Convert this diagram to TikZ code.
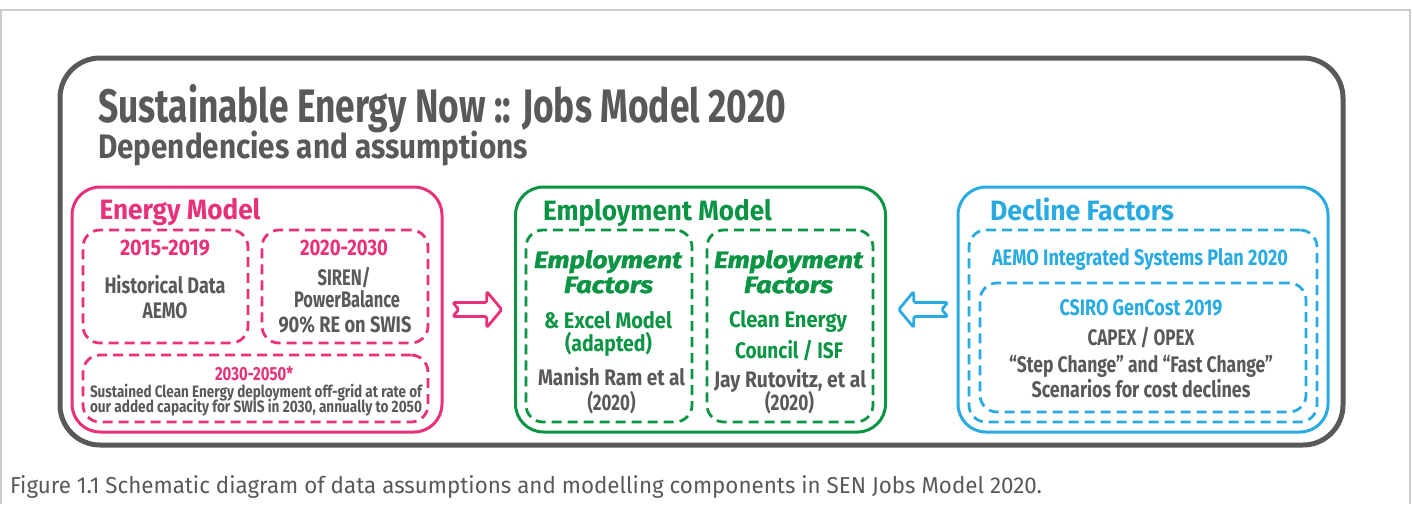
\documentclass[tikz,border=0pt]{standalone}
\usepackage{fontspec}
\usepackage{graphicx}
\usetikzlibrary{calc}
\newfontfamily\dinc{Fira Sans}
\newfontfamily\empf{Fira Sans}[FakeBold=1.5]
\newsavebox\fitbox
\newcommand\fitw[2]{\sbox\fitbox{#2}\pgfmathsetmacro\fitr{#1/\the\wd\fitbox}\scalebox{\fitr}[1]{\usebox\fitbox}}
\definecolor{dgray}{HTML}{58595B}
\definecolor{pinkc}{HTML}{E8317A}
\definecolor{greenc}{HTML}{0B9444}
\definecolor{bluec}{HTML}{29ABE2}
\definecolor{lgray}{HTML}{CCCCCC}
\tikzset{
  t/.style={anchor=base, inner sep=0pt, outer sep=0pt},
  bigbox/.style={draw, line width=3pt, rounded corners=28pt, minimum width=370pt, minimum height=245pt, inner sep=0pt},
  dbox/.style={draw, line width=2.8pt, dash pattern=on 10pt off 6pt, rounded corners=17pt, inner sep=0pt},
  ttl/.style={t, anchor=base west, font=\dinc\bfseries\fontsize{28}{28}\selectfont},
  mid/.style={t, font=\dinc\bfseries\fontsize{22.5}{22.5}\selectfont},
  emp/.style={t, font=\empf\bfseries\itshape\fontsize{23.5}{23.5}\selectfont, text=greenc},
  small/.style={t, font=\dinc\bfseries\fontsize{16.5}{16.5}\selectfont, text=dgray},
  barrow/.style={line width=2.8pt, rounded corners=1.5pt, line join=round}
}
\begin{document}
\begin{tikzpicture}[x=1pt,y=-1pt]
\useasboundingbox (0,0) rectangle (1412,504);
% page frame
\draw[lgray, line width=1.5pt] (0.75,504) -- (0.75,10) -- (1410,10) -- (1410,504);
% outer gray box
\node[draw=dgray, line width=5pt, rounded corners=40pt, minimum width=1283pt, minimum height=387pt, inner sep=0pt] (outer) at (701.5,251.5) {};
\node[t, anchor=base west, font=\dinc\bfseries\fontsize{47}{47}\selectfont, text=dgray] (title) at (98,122) {\fitw{688}{Sustainable Energy Now :: Jobs Model 2020}};
\node[t, anchor=base west, font=\dinc\bfseries\fontsize{34}{34}\selectfont, text=dgray] (subtitle) at (98,158) {\fitw{430}{Dependencies and assumptions}};

% ---------- Energy Model ----------
\node[bigbox, draw=pinkc] (energy) at (257,309.5) {};
\node[ttl, text=pinkc] (energyT) at (99.5,219) {\fitw{161}{Energy Model}};
\node[dbox, draw=pinkc, minimum width=165pt, minimum height=113pt] (eA) at (165.5,286.5) {};
\node[dbox, draw=pinkc, minimum width=166pt, minimum height=113pt] (eB) at (345,286.5) {};
\node[dbox, draw=pinkc, minimum width=345pt, minimum height=67pt] (eC) at (255.5,388.5) {};
\node[mid, text=pinkc] (eA1) at (165,255) {\fitw{90}{2015-2019}};
\node[mid, text=dgray] (eA2) at (165,293) {\fitw{121}{Historical Data}};
\node[mid, text=dgray] (eA3) at (165,318) {\fitw{45}{AEMO}};
\node[mid, text=pinkc] (eB1) at (344,255) {\fitw{88}{2020-2030}};
\node[mid, text=dgray] (eB2) at (344,285) {\fitw{53}{SIREN/}};
\node[mid, text=dgray] (eB3) at (347,307) {\fitw{106}{PowerBalance}};
\node[mid, text=dgray] (eB4) at (345,332) {\fitw{133}{90\% RE on SWIS}};
\node[t, font=\dinc\bfseries\fontsize{19}{19}\selectfont, text=pinkc] (eC1) at (254,380) {\fitw{78}{2030-2050*}};
\node[small] (eC2) at (256,397) {\fitw{332}{Sustained Clean Energy deployment off-grid at rate of}};
\node[small] (eC3) at (256,412) {\fitw{332}{our added capacity for SWIS in 2030, annually to 2050}};

% ---------- Employment Model ----------
\node[bigbox, draw=greenc] (employ) at (700.5,309.5) {};
\node[ttl, text=greenc] (employT) at (543,220) {\fitw{229}{Employment Model}};
\node[dbox, draw=greenc, minimum width=166pt, minimum height=192pt] (mA) at (609,326) {};
\node[dbox, draw=greenc, minimum width=166pt, minimum height=192pt] (mB) at (790,326) {};
\node[emp] (mA1) at (608,268) {\fitw{148}{Employment}};
\node[emp] (mA2) at (608.5,293) {\fitw{89}{Factors}};
\node[mid, text=greenc] (mA3) at (608,328) {\fitw{128}{\& Excel Model}};
\node[mid, text=greenc] (mA4) at (608.5,351) {\fitw{87}{(adapted)}};
\node[mid, text=dgray] (mA5) at (611.5,385) {\fitw{147}{Manish Ram et al}};
\node[mid, text=dgray] (mA6) at (611.5,410) {\fitw{48}{(2020)}};
\node[emp] (mB1) at (788.5,268) {\fitw{149}{Employment}};
\node[emp] (mB2) at (788.5,293) {\fitw{89}{Factors}};
\node[mid, text=greenc] (mB3) at (788,327) {\fitw{118}{Clean Energy}};
\node[mid, text=greenc] (mB4) at (789,358) {\fitw{108}{Council / ISF}};
\node[mid, text=dgray] (mB5) at (790,387) {\fitw{152}{Jay Rutovitz, et al}};
\node[mid, text=dgray] (mB6) at (789.5,410) {\fitw{49}{(2020)}};

% ---------- Decline Factors ----------
\node[bigbox, draw=bluec] (decline) at (1143,309.5) {};
\node[ttl, text=bluec] (declineT) at (990,220) {\fitw{184}{Decline Factors}};
\node[dbox, draw=bluec, minimum width=348pt, minimum height=192pt] (dA) at (1143,326) {};
\node[dbox, draw=bluec, minimum width=326pt, minimum height=129pt] (dB) at (1143,347.5) {};
\node[mid, text=bluec] (dA1) at (1140,265) {\fitw{296}{AEMO Integrated Systems Plan 2020}};
\node[mid, text=bluec] (dB1) at (1141,315) {\fitw{163}{CSIRO GenCost 2019}};
\node[mid, text=dgray] (dB2) at (1141,345) {\fitw{107}{CAPEX / OPEX}};
\node[mid, text=dgray] (dB3) at (1141,372) {\fitw{264}{“Step Change” and “Fast Change”}};
\node[mid, text=dgray] (dB4) at (1141,397) {\fitw{219}{Scenarios for cost declines}};

% ---------- block arrows ----------
\coordinate (p) at ($(energy.east)!0.5!(employ.west)$);
\draw[barrow, pinkc] ([shift={(-26,-7)}]p) -- ([shift={(8,-7)}]p) -- ([shift={(8,-18)}]p) -- ([shift={(23,0)}]p) -- ([shift={(8,18)}]p) -- ([shift={(8,7)}]p) -- ([shift={(-26,7)}]p) -- ([shift={(-20,0)}]p) -- cycle;
\coordinate (q) at ($(employ.east)!0.5!(decline.west)$);
\draw[barrow, bluec] ([shift={(26,-7)}]q) -- ([shift={(-8,-7)}]q) -- ([shift={(-8,-18)}]q) -- ([shift={(-23,0)}]q) -- ([shift={(-8,18)}]q) -- ([shift={(-8,7)}]q) -- ([shift={(26,7)}]q) -- ([shift={(20,0)}]q) -- cycle;

% caption
\node[t, anchor=base west, font=\dinc\fontsize{23}{23}\selectfont, text=dgray] (caption) at (10,493) {\fitw{1032}{Figure 1.1 Schematic diagram of data assumptions and modelling components in SEN Jobs Model 2020.}};
\end{tikzpicture}
\end{document}
